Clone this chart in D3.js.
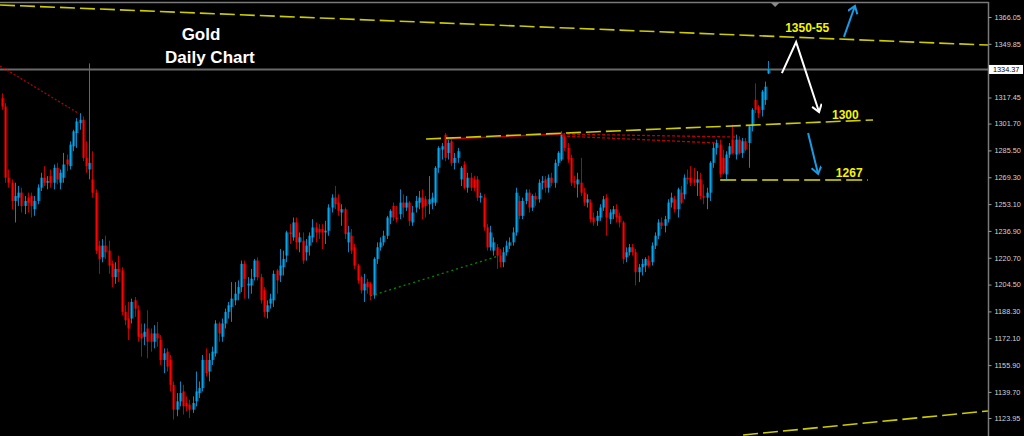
<!DOCTYPE html>
<html><head><meta charset="utf-8">
<script src="https://cdn.jsdelivr.net/npm/d3@7/dist/d3.min.js"></script>
<style>html,body{margin:0;padding:0;background:#000;overflow:hidden}</style>
</head><body>
<svg id="c" width="1024" height="436"></svg>
<script>
// ---- DATA (gold daily) ----
const opens = [1317,1312,1269,1266,1255,1257,1260,1252,1257,1258,1250,1255,1263,1269,1266,1270,1266,1275,1266,1269,
1280,1276,1288,1296,1302,1304,1281,1274,1268,1260,1228,1221,1228,1225,1217,1209,1214,1213,1188,1184,
1184,1195,1189,1175,1173,1178,1175,1170,1175,1171,1159,1164,1159,1144,1129,1134,1140,1133,1132,1129,
1134,1139,1142,1159,1152,1159,1163,1181,1173,1181,1188,1191,1195,1199,1203,1217,1204,1204,1209,1219,
1209,1201,1188,1193,1195,1213,1210,1215,1222,1236,1233,1242,1230,1231,1224,1228,1233,1239,1238,1238,
1236,1237,1251,1257,1254,1248,1250,1230,1234,1227,1216,1209,1201,1206,1205,1198,1220,1227,1230,1234,
1245,1252,1245,1247,1254,1251,1254,1242,1251,1254,1257,1256,1253,1254,1254,1275,1286,1295,1284,1291,
1278,1281,1268,1277,1263,1269,1268,1268,1257,1257,1239,1227,1225,1227,1222,1218,1224,1228,1230,1236,
1255,1246,1255,1260,1251,1258,1256,1266,1268,1263,1269,1266,1278,1280,1294,1287,1281,1267,1265,1266,
1260,1254,1254,1245,1243,1245,1251,1257,1244,1247,1250,1246,1242,1221,1224,1227,1224,1212,1215,1216,
1219,1218,1228,1234,1242,1240,1244,1254,1256,1250,1260,1259,1269,1269,1268,1266,1268,1258,1257,1260,
1278,1287,1289,1281,1271,1283,1292,1283,1292,1284,1291,1290,1300,1316,1312,1310,1316,1332];
const highs = [1320,1314,1274,1268,1266,1264,1263,1258,1260,1260,1258,1265,1272,1276,1270,1274,1277,1278,1274,1284,
1283,1291,1298,1305,1308,1306,1291,1338,1285,1262,1231,1232,1234,1231,1219,1218,1222,1215,1192,1194,
1196,1197,1192,1181,1181,1189,1178,1180,1182,1174,1166,1166,1162,1146,1139,1146,1144,1137,1135,1137,
1152,1146,1162,1166,1163,1167,1183,1182,1184,1190,1194,1206,1206,1207,1219,1219,1209,1214,1220,1221,
1211,1203,1195,1199,1213,1214,1226,1225,1237,1241,1245,1245,1236,1236,1232,1236,1244,1242,1241,1241,
1243,1253,1259,1264,1259,1253,1251,1240,1238,1229,1217,1210,1211,1208,1206,1221,1230,1233,1237,1246,
1250,1254,1252,1262,1259,1258,1255,1252,1258,1261,1262,1258,1270,1260,1276,1288,1290,1296,1292,1293,
1284,1287,1276,1279,1272,1272,1270,1270,1260,1259,1241,1240,1233,1229,1226,1227,1231,1233,1239,1263,
1258,1257,1262,1262,1259,1260,1268,1270,1270,1271,1272,1280,1285,1297,1296,1290,1283,1270,1272,1281,
1263,1259,1256,1248,1249,1253,1258,1259,1250,1252,1253,1248,1243,1227,1229,1229,1226,1217,1220,1221,
1222,1230,1236,1244,1245,1246,1256,1260,1258,1263,1264,1271,1274,1276,1275,1273,1272,1265,1263,1279,
1290,1292,1292,1286,1285,1290,1301,1295,1294,1293,1293,1301,1311,1326,1313,1322,1327,1339.5];
const lows = [1310,1266,1263,1250,1242,1252,1248,1247,1248,1245,1246,1253,1261,1264,1262,1263,1262,1265,1262,1266,
1273,1274,1285,1287,1298,1279,1272,1268,1257,1223,1211,1218,1220,1211,1203,1205,1206,1186,1180,1171,
1181,1185,1170,1161,1168,1160,1164,1166,1167,1156,1151,1152,1140,1123,1125,1131,1126,1128,1124,1127,
1131,1136,1140,1149,1146,1156,1161,1170,1170,1178,1184,1182,1192,1195,1200,1196,1196,1199,1207,1207,
1193,1185,1184,1190,1191,1199,1206,1210,1218,1229,1231,1226,1224,1217,1219,1222,1230,1230,1232,1226,
1229,1234,1248,1250,1246,1240,1232,1224,1223,1214,1205,1199,1194,1199,1195,1196,1217,1225,1228,1232,
1241,1243,1242,1244,1245,1249,1240,1240,1248,1250,1244,1245,1247,1250,1252,1272,1280,1279,1280,1276,
1274,1278,1264,1262,1260,1261,1261,1255,1254,1237,1225,1225,1222,1214,1215,1215,1222,1226,1228,1234,
1244,1244,1253,1248,1249,1252,1254,1262,1260,1260,1264,1263,1276,1279,1285,1278,1264,1263,1257,1258,
1252,1251,1242,1240,1240,1243,1249,1234,1241,1244,1242,1239,1217,1218,1222,1222,1204,1206,1210,1212,
1215,1216,1226,1232,1238,1236,1242,1251,1248,1245,1253,1256,1265,1264,1264,1258,1256,1253,1250,1255,
1275,1283,1269,1271,1267,1281,1283,1280,1283,1281,1285,1275,1297,1308,1305,1306,1313,1331.6];
const closes = [1312,1269,1266,1255,1258,1260,1252,1255,1254,1252,1255,1263,1269,1266,1267,1266,1275,1268,1272,1277,
1277,1289,1297,1303,1304,1281,1276,1278,1260,1225,1220,1228,1224,1216,1209,1214,1212,1188,1183,1178,
1194,1190,1173,1172,1176,1170,1170,1175,1172,1159,1163,1155,1144,1129,1134,1139,1131,1131,1129,1133,
1140,1142,1159,1151,1159,1164,1181,1175,1181,1188,1192,1196,1199,1203,1217,1208,1205,1208,1219,1209,
1195,1188,1192,1196,1211,1207,1216,1220,1236,1235,1242,1230,1233,1219,1228,1234,1239,1236,1236,1236,
1237,1251,1257,1253,1249,1250,1235,1236,1225,1216,1207,1201,1205,1203,1198,1220,1227,1230,1234,1245,
1249,1245,1244,1254,1251,1254,1243,1248,1255,1257,1251,1252,1256,1257,1275,1287,1288,1281,1290,1278,
1281,1285,1275,1263,1269,1263,1263,1257,1258,1239,1227,1236,1230,1222,1218,1224,1228,1230,1236,1260,
1246,1255,1260,1251,1258,1256,1266,1267,1263,1269,1266,1278,1284,1295,1287,1280,1266,1266,1268,1260,
1254,1256,1244,1242,1246,1251,1256,1245,1248,1250,1245,1242,1220,1224,1227,1224,1212,1215,1217,1220,
1216,1228,1234,1242,1240,1244,1254,1257,1250,1262,1254,1269,1268,1266,1266,1268,1258,1257,1260,1278,
1287,1290,1271,1272,1283,1288,1284,1292,1284,1291,1286,1300,1310,1310,1308,1321,1324,1334.37];

const axisTicks = [1366.05,1349.85,1317.45,1301.70,1285.50,1269.30,1253.10,1236.90,1220.70,1204.50,1188.30,1172.10,1155.90,1139.70,1123.95];
const lastPrice = 1334.37;

// trend lines / annotations: [candle index, price]
const resistanceLine = [[-0.62,1373.3],[305.1,1349.1]];
const supportLine    = [[229.3,1113.7],[305.1,1128.2]];
const line1300       = [[131.2,1292.4],[269.5,1303.9]];
const line1267       = [[222.2,1267.6],[267.9,1267.6]];
const redTopLeft     = [[-0.62,1336.5],[23.5,1308.1]];
const redNeck        = [[137.4,1292.4],[173.3,1295.4]];
const redDot1        = [[173.3,1295.4],[226.8,1293.6]];
const redDot2        = [[173.3,1294.2],[221.2,1290.0]];
const greenLine      = [[113.9,1197.6],[153.5,1221.7]];
const whiteArrow     = [[241.3,1332.2],[245.7,1350.9],[252.8,1308.7]];
const blueUpArrow    = [[260.5,1354.0],[263.9,1372.7]];
const blueDownArrow  = [[249.4,1296.0],[252.5,1271.3]];
const levelLabels = ['1350-55','1300','1267'];
const levelLabelAnchors = [[242.3,1356.7],[256.8,1304.2],[258.0,1269.4]];
const titleLines = ['Gold','Daily Chart'];
const shiftMarkerIndex = 239.2;

// ---- DRAW ----
const svg = d3.select('#c');
const plotRight = 988, plotTop = 2;
const x = d3.scaleLinear().domain([0, closes.length-1]).range([2, 768]);
const y = d3.scaleLinear().domain([1123.95, 1366.05]).range([418, 17]);

svg.append('rect').attr('width',1024).attr('height',436).attr('fill','#000');
const defs = svg.append('defs');
defs.append('clipPath').attr('id','plot').append('rect')
  .attr('x',0).attr('y',plotTop).attr('width',plotRight).attr('height',436-plotTop);
function marker(id,color){
  defs.append('marker').attr('id',id).attr('markerUnits','userSpaceOnUse')
    .attr('markerWidth',12).attr('markerHeight',12).attr('refX',8).attr('refY',5)
    .attr('orient','auto').append('path').attr('d','M1,0 L8,5 L1,10')
    .attr('fill','none').attr('stroke',color).attr('stroke-width',2);
}
marker('hw','#ffffff'); marker('hb','#1a9be6');

const plot = svg.append('g').attr('clip-path','url(#plot)');
const lineGen = d3.line().x(d=>x(d[0])).y(d=>y(d[1]));

// price line
plot.append('line').attr('x1',0).attr('x2',plotRight)
  .attr('y1',Math.round(y(lastPrice))+0.5).attr('y2',Math.round(y(lastPrice))+0.5)
  .attr('stroke','#6a6a6a').attr('stroke-width',2);

// candles
const data = closes.map((c,i)=>({i,o:opens[i],h:highs[i],l:lows[i],c}));
const up = '#00a8f0', dn = '#ff0000', upDim = '#06668f', dnDim = '#8a0000';
const cg = plot.append('g');
// dim "shadow" column next to each body (as in the downscaled screenshot)
cg.selectAll('rect.sh').data(data).join('rect').attr('class','sh')
  .attr('x',d=>Math.round(x(d.i))+1.5).attr('width',1)
  .attr('y',d=>y(Math.max(d.o,d.c)))
  .attr('height',d=>Math.max(1,Math.abs(y(d.o)-y(d.c))))
  .attr('fill',d=>d.c>=d.o?upDim:dnDim);
cg.selectAll('line').data(data).join('line')
  .attr('x1',d=>Math.round(x(d.i))+0.5).attr('x2',d=>Math.round(x(d.i))+0.5)
  .attr('y1',d=>y(d.h)).attr('y2',d=>y(d.l))
  .attr('stroke',d=>d.c>=d.o?'#0a86bf':'#c00000').attr('stroke-width',1);
cg.selectAll('rect.b').data(data).join('rect').attr('class','b')
  .attr('x',d=>Math.round(x(d.i))-0.5).attr('width',2)
  .attr('y',d=>y(Math.max(d.o,d.c)))
  .attr('height',d=>Math.max(1,Math.abs(y(d.o)-y(d.c))))
  .attr('fill',d=>d.c>=d.o?up:dn);

// trend lines
const yellow='#cccc00';
plot.append('path').attr('d',lineGen(resistanceLine)).attr('stroke',yellow).attr('stroke-width',1.6).attr('stroke-dasharray','15,5').attr('fill','none');
plot.append('path').attr('d',lineGen(supportLine)).attr('stroke',yellow).attr('stroke-width',1.6).attr('stroke-dasharray','15,5').attr('fill','none');
plot.append('path').attr('d',lineGen(redTopLeft)).attr('stroke','#b00000').attr('stroke-width',1.3).attr('stroke-dasharray','2,2').attr('fill','none');
plot.append('path').attr('d',lineGen(redNeck)).attr('stroke','#c00000').attr('stroke-width',1.5).attr('fill','none');
plot.append('path').attr('d',lineGen(redDot1)).attr('stroke','#c00000').attr('stroke-width',1.3).attr('stroke-dasharray','3,2').attr('fill','none');
plot.append('path').attr('d',lineGen(redDot2)).attr('stroke','#c00000').attr('stroke-width',1.3).attr('stroke-dasharray','3,2').attr('fill','none');
plot.append('path').attr('d',lineGen(greenLine)).attr('stroke','#008a00').attr('stroke-width',1.3).attr('stroke-dasharray','2,3').attr('fill','none');
plot.append('path').attr('d',lineGen(line1300)).attr('stroke',yellow).attr('stroke-width',1.6).attr('stroke-dasharray','15,5').attr('fill','none');
plot.append('path').attr('d',lineGen(line1267)).attr('stroke','#a8a800').attr('stroke-width',2).attr('stroke-dasharray','16,5').attr('fill','none');

// arrows
plot.append('path').attr('d',lineGen(whiteArrow)).attr('stroke','#fff').attr('stroke-width',2)
  .attr('fill','none').attr('stroke-linejoin','miter').attr('marker-end','url(#hw)');
plot.append('path').attr('d',lineGen(blueUpArrow)).attr('stroke','#1a9be6').attr('stroke-width',2)
  .attr('fill','none').attr('marker-end','url(#hb)');
plot.append('path').attr('d',lineGen(blueDownArrow)).attr('stroke','#1a9be6').attr('stroke-width',2)
  .attr('fill','none').attr('marker-end','url(#hb)');

// level labels
plot.selectAll('text.lvl').data(levelLabels).join('text').attr('class','lvl')
  .attr('x',(d,k)=>x(levelLabelAnchors[k][0])).attr('y',(d,k)=>y(levelLabelAnchors[k][1]))
  .attr('fill','#f5f500').attr('font-family','Liberation Sans, Arial, sans-serif')
  .attr('font-weight','bold').attr('font-size',12).text(d=>d);

// title
svg.append('text').attr('x',201).attr('y',40).attr('text-anchor','middle')
  .attr('fill','#fff').attr('font-family','Liberation Sans, Arial, sans-serif')
  .attr('font-weight','bold').attr('font-size',17).text(titleLines[0]);
svg.append('text').attr('x',165).attr('y',63)
  .attr('fill','#fff').attr('font-family','Liberation Sans, Arial, sans-serif')
  .attr('font-weight','bold').attr('font-size',17).text(titleLines[1]);

// frame
svg.append('line').attr('x1',0).attr('x2',plotRight+0.5).attr('y1',2.5).attr('y2',2.5).attr('stroke','#7a7a7a').attr('stroke-width',1.5);
svg.append('line').attr('x1',plotRight+0.5).attr('x2',plotRight+0.5).attr('y1',2).attr('y2',436).attr('stroke','#7a7a7a').attr('stroke-width',1.5);
const sx = x(shiftMarkerIndex);
svg.append('path').attr('d',`M${sx-4},3 L${sx+4},3 L${sx},7 Z`).attr('fill','#8a8a8a');

// axis
const ax = svg.append('g').attr('transform',`translate(${plotRight+0.5},0)`)
  .call(d3.axisRight(y).tickValues(axisTicks).tickSize(3).tickPadding(3).tickFormat(d3.format('.2f')));
ax.select('.domain').remove();
ax.selectAll('line').attr('stroke','#9a9a9a');
ax.selectAll('text').attr('fill','#d2d2d2').attr('font-family','Liberation Sans, Arial, sans-serif').attr('font-size',7.3);

// last price box
const ly = y(lastPrice);
svg.append('rect').attr('x',plotRight+1).attr('y',ly-4.5).attr('width',34).attr('height',9).attr('fill','#fff');
svg.append('text').attr('x',plotRight+5).attr('y',ly).attr('dy','0.34em')
  .attr('fill','#000').attr('font-family','Liberation Sans, Arial, sans-serif').attr('font-size',7.3)
  .text(d3.format('.2f')(lastPrice));
</script>
</body></html>
